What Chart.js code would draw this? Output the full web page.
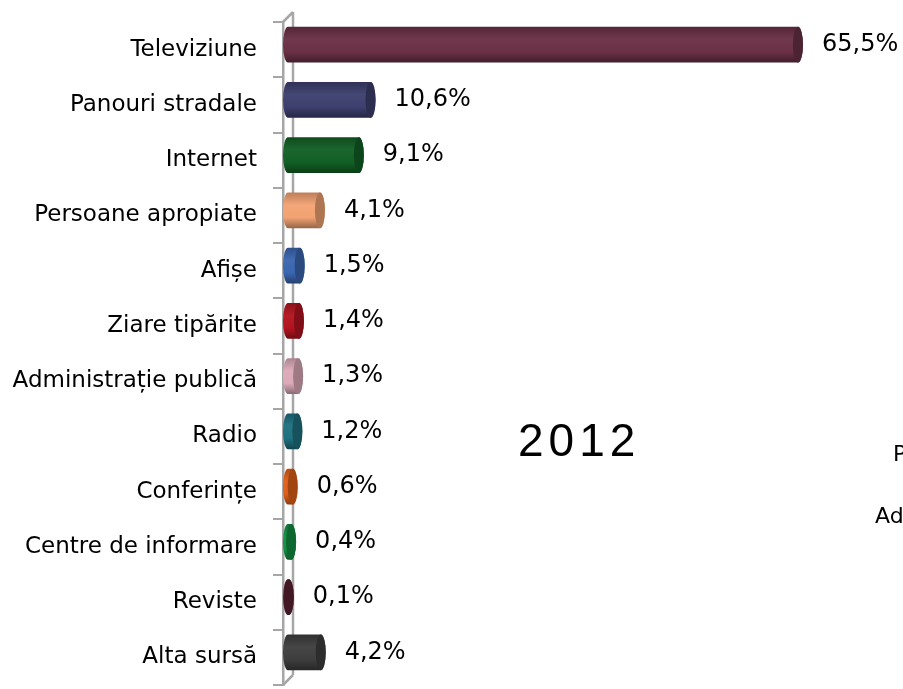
<!DOCTYPE html>
<html>
<head>
<meta charset="utf-8">
<script src="https://cdn.jsdelivr.net/npm/chart.js@4/dist/chart.umd.min.js"></script>
<style>
  html, body { margin: 0; padding: 0; background: #fff; }
  #wrap { width: 903px; height: 689px; }
</style>
</head>
<body>
<div id="wrap"><canvas id="myChart"></canvas></div>
<script>
const categories = ["Televiziune", "Panouri stradale", "Internet", "Persoane apropiate", "Afișe",
  "Ziare tipărite", "Administrație publică", "Radio", "Conferințe", "Centre de informare", "Reviste", "Alta sursă"];
const values = [65.5, 10.6, 9.1, 4.1, 1.5, 1.4, 1.3, 1.2, 0.6, 0.4, 0.1, 4.2];
const valueLabels = ["65,5%", "10,6%", "9,1%", "4,1%", "1,5%", "1,4%", "1,3%", "1,2%", "0,6%", "0,4%", "0,1%", "4,2%"];
const barColors = ["#6a3045", "#3d3f6e", "#126025", "#f2a272", "#3a66b0", "#b3141e",
  "#dcaab9", "#1e7080", "#e06018", "#119040", "#5a2232", "#3e3e3e"];
const yearTitle = "2012";

// darken / lighten a hex colour
function shade(hex, f) {
  const n = parseInt(hex.slice(1), 16);
  let r = (n >> 16) & 255, g = (n >> 8) & 255, b = n & 255;
  if (f < 1) { r *= f; g *= f; b *= f; }
  else { r += (255 - r) * (f - 1); g += (255 - g) * (f - 1); b += (255 - b) * (f - 1); }
  return "rgb(" + Math.round(r) + "," + Math.round(g) + "," + Math.round(b) + ")";
}

const cylinders = {
  id: "cylinders",
  beforeDatasetsDraw(chart) {
    // 3D frame: back wall line and connectors
    const ctx = chart.ctx, a = chart.chartArea;
    ctx.save();
    ctx.strokeStyle = "#a6a6a6";
    ctx.lineWidth = 2.5;
    ctx.beginPath();
    ctx.moveTo(a.left + 10, a.top - 10);
    ctx.lineTo(a.left + 10, a.bottom - 10);
    ctx.moveTo(a.left, a.top);
    ctx.lineTo(a.left + 10, a.top - 10);
    ctx.moveTo(a.left, a.bottom);
    ctx.lineTo(a.left + 10, a.bottom - 10);
    ctx.stroke();
    ctx.restore();
  },
  afterDatasetsDraw(chart) {
    const ctx = chart.ctx;
    const meta = chart.getDatasetMeta(0);
    const rx = 5;
    ctx.save();
    meta.data.forEach((bar, i) => {
      const c = barColors[i];
      const h = bar.height;
      const yc = bar.y - 5;
      const top = yc - h / 2, bot = yc + h / 2;
      const x0 = bar.base + rx;
      const x1 = bar.x + rx;
      const g = ctx.createLinearGradient(0, top, 0, bot);
      g.addColorStop(0, shade(c, 0.78));
      g.addColorStop(0.35, shade(c, 1.04));
      g.addColorStop(0.7, c);
      g.addColorStop(1, shade(c, 0.62));
      ctx.fillStyle = g;
      ctx.beginPath();
      ctx.ellipse(x0, yc, rx, h / 2, 0, Math.PI / 2, Math.PI * 1.5);
      ctx.lineTo(x1, top);
      ctx.ellipse(x1, yc, rx, h / 2, 0, -Math.PI / 2, Math.PI / 2);
      ctx.closePath();
      ctx.fill();
      // end cap
      ctx.fillStyle = shade(c, 0.72);
      ctx.beginPath();
      ctx.ellipse(x1, yc, rx, h / 2, 0, 0, Math.PI * 2);
      ctx.fill();
      // value label
      ctx.fillStyle = "#000";
      ctx.font = "24px 'DejaVu Sans'";
      ctx.textAlign = "left";
      ctx.textBaseline = "middle";
      ctx.fillText(valueLabels[i], x1 + rx + 19, yc);
    });
    // year title, letter spaced
    ctx.font = "46px 'Liberation Sans'";
    ctx.textBaseline = "middle";
    ctx.textAlign = "left";
    let x = 518;
    for (const ch of yearTitle) {
      ctx.fillText(ch, x, 443);
      x += ctx.measureText(ch).width + 5;
    }
    // neighbouring chart legend, cut by the edge
    ctx.font = "22px 'DejaVu Sans'";
    ctx.fillText("Panouri stradale", 893, 455);
    ctx.fillText("Administrație publică", 875, 517);
    ctx.restore();
  }
};

const context = document.getElementById("myChart").getContext("2d");

const myChart = new Chart(context, {
  type: "bar",
  data: {
    labels: categories,
    datasets: [{
      data: values,
      backgroundColor: "rgba(0,0,0,0)",
      barPercentage: 0.65,
      categoryPercentage: 1
    }]
  },
  options: {
    indexAxis: "y",
    responsive: true,
    maintainAspectRatio: false,
    animation: false,
    events: [],
    layout: { padding: { top: 22, bottom: 4, right: 75, left: 0 } },
    plugins: { legend: false, tooltip: { enabled: false } },
    scales: {
      x: { display: false, min: 0, max: 70 },
      y: {
        afterFit(scale) {
          scale.width = 283;
          scale.paddingTop = 0;
          scale.paddingBottom = 0;
        },
        grid: { drawOnChartArea: false, color: "#a6a6a6", lineWidth: 2, tickLength: 10, offset: true },
        border: { color: "#a6a6a6", width: 2.5 },
        ticks: { color: "#000", font: { family: "DejaVu Sans", size: 23 }, padding: 16, autoSkip: false }
      }
    }
  },
  plugins: [cylinders]
});
</script>
</body>
</html>
